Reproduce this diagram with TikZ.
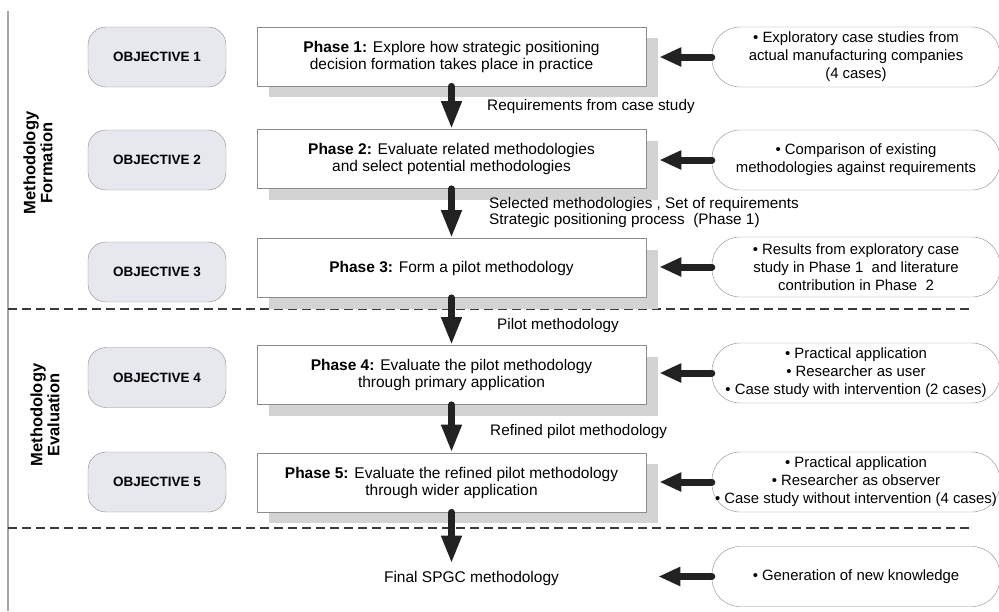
\documentclass[tikz,border=0pt]{standalone}
\usepackage{fontspec}
\setmainfont{Liberation Sans}
\usetikzlibrary{arrows.meta}
\definecolor{objfill}{HTML}{E6E8EE}
\definecolor{edgegray}{HTML}{8C8C8C}
\definecolor{shadowgray}{HTML}{D3D3D3}
\definecolor{arrowdark}{HTML}{222222}
\definecolor{dashdark}{HTML}{3A3A3A}
\tikzset{
  objbox/.style={draw=edgegray, fill=objfill, rounded corners=18pt,
    minimum width=138pt, minimum height=60pt, inner sep=0pt,
    font=\fontsize{13.5}{15}\selectfont\bfseries},
  phasebox/.style={draw=edgegray, fill=white, line width=0.8pt,
    minimum width=389pt, minimum height=59pt, inner sep=0pt, align=center,
    font=\fontsize{15.5}{17}\selectfont},
  phaseshadow/.style={fill=shadowgray, draw=none,
    minimum width=389pt, minimum height=59pt, inner sep=0pt},
  sourcepill/.style={draw=edgegray, fill=white, rounded corners=28pt,
    minimum width=288pt, minimum height=60pt, inner sep=0pt, align=center,
    font=\fontsize{14.9}{18}\selectfont},
  flowlabel/.style={anchor=west, inner sep=0pt, align=left,
    font=\fontsize{15.3}{15.5}\selectfont},
  downarrow/.style={draw=arrowdark, line width=7pt, line cap=round,
    -{Triangle[length=28pt,width=19pt]}},
  leftarrow/.style={draw=arrowdark, line width=7pt, line cap=round,
    -{Triangle[length=22pt,width=18pt]}},
  divider/.style={draw=dashdark, line width=2pt, dash pattern=on 9pt off 5pt},
  sidelabel/.style={rotate=90, align=center, inner sep=0pt,
    font=\fontsize{16.5}{17}\selectfont\bfseries}
}
\begin{document}
\begin{tikzpicture}[x=1pt, y=-1pt]
\useasboundingbox (0,0) rectangle (999,611);
\begin{scope}
\clip (0,0) rectangle (999,611);

% left margin rule
\draw[gray!70, line width=2pt] (8,11) -- (8,611);

% section dividers
\coordinate (d1a) at (8,309);
\coordinate (d1b) at (970,309);
\coordinate (d2a) at (8,528);
\coordinate (d2b) at (970,528);
\draw[divider] (d1a) -- (d1b);
\draw[divider] (d2a) -- (d2b);

% side labels
\node[sidelabel] (formation) at (38,163) {Methodology\\Formation};
\node[sidelabel] (evaluation) at (45,415) {Methodology\\Evaluation};

% objectives
\node[objbox] (o1) at (157,57) {OBJECTIVE 1};
\node[objbox] (o2) at (157,160) {OBJECTIVE 2};
\node[objbox] (o3) at (157,272) {OBJECTIVE 3};
\node[objbox] (o4) at (157,377.5) {OBJECTIVE 4};
\node[objbox] (o5) at (157,482) {OBJECTIVE 5};

% phase shadows
\foreach \yy in {56.5,159,268,375,482.5}
  \node[phaseshadow] at (463.5,\yy+11) {};

% phases
\node[phasebox] (p1) at (451.5,56.5)
  {\textbf{Phase 1:} Explore how strategic positioning\\decision formation takes place in practice};
\node[phasebox] (p2) at (451.5,159)
  {\textbf{Phase 2:} Evaluate related methodologies\\and select potential methodologies};
\node[phasebox] (p3) at (451.5,268)
  {\textbf{Phase 3:} Form a pilot methodology};
\node[phasebox] (p4) at (451.5,375)
  {\textbf{Phase 4:} Evaluate the pilot methodology\\through primary application};
\node[phasebox] (p5) at (451.5,482.5)
  {\textbf{Phase 5:} Evaluate the refined pilot methodology\\through wider application};
\node[inner sep=0pt, font=\fontsize{15.5}{17}\selectfont] (fin) at (471.5,578) {Final SPGC methodology};

% inputs
\node[sourcepill] (s1) at (856,57)
  {\textbullet\ Exploratory case studies from\\actual manufacturing companies\\(4 cases)};
\node[sourcepill] (s2) at (856,160)
  {\textbullet\ Comparison of existing\\methodologies against requirements};
\node[sourcepill] (s3) at (856,267)
  {\textbullet\ Results from exploratory case\\study in Phase 1\ \ and literature\\contribution in Phase\ \ 2};
\node[sourcepill] (s4) at (856,373)
  {\textbullet\ Practical application\\\textbullet\ Researcher as user\\\textbullet\ Case study with intervention (2 cases)};
\node[sourcepill] (s5) at (856,482)
  {\textbullet\ Practical application\\\textbullet\ Researcher as observer\\\textbullet\ Case study without intervention (4 cases)};
\node[sourcepill] (s6) at (856,576.5)
  {\textbullet\ Generation of new knowledge};

% flow between phases
\draw[downarrow] (p1.south) -- (p2.north);
\draw[downarrow] (p2.south) -- (p3.north);
\draw[downarrow] (p3.south) -- (p4.north);
\draw[downarrow] (p4.south) -- (p5.north);
\draw[downarrow, shorten >=7pt] (p5.south) -- (p5.south |- fin.north);

% flow labels
\node[flowlabel] (l1) at (487,107) {Requirements from case study};
\node[flowlabel] (l2) at (489,212.5) {Selected methodologies , Set of requirements\\Strategic positioning process\ \ (Phase 1)};
\node[flowlabel] (l3) at (497,326) {Pilot methodology};
\node[flowlabel] (l4) at (490,432) {Refined pilot methodology};

% inputs feeding phases (tips reach the shadow edge)
\draw[leftarrow] (s1.west) -- ([xshift=13pt]p1.east |- s1.west);
\draw[leftarrow] (s2.west) -- ([xshift=13pt]p2.east |- s2.west);
\draw[leftarrow] (s3.west) -- ([xshift=13pt]p3.east |- s3.west);
\draw[leftarrow] (s4.west) -- ([xshift=13pt]p4.east |- s4.west);
\draw[leftarrow] (s5.west) -- ([xshift=13pt]p5.east |- s5.west);
\draw[leftarrow] (s6.west) -- ([xshift=12pt]p5.east |- s6.west);
\end{scope}
\end{tikzpicture}
\end{document}
